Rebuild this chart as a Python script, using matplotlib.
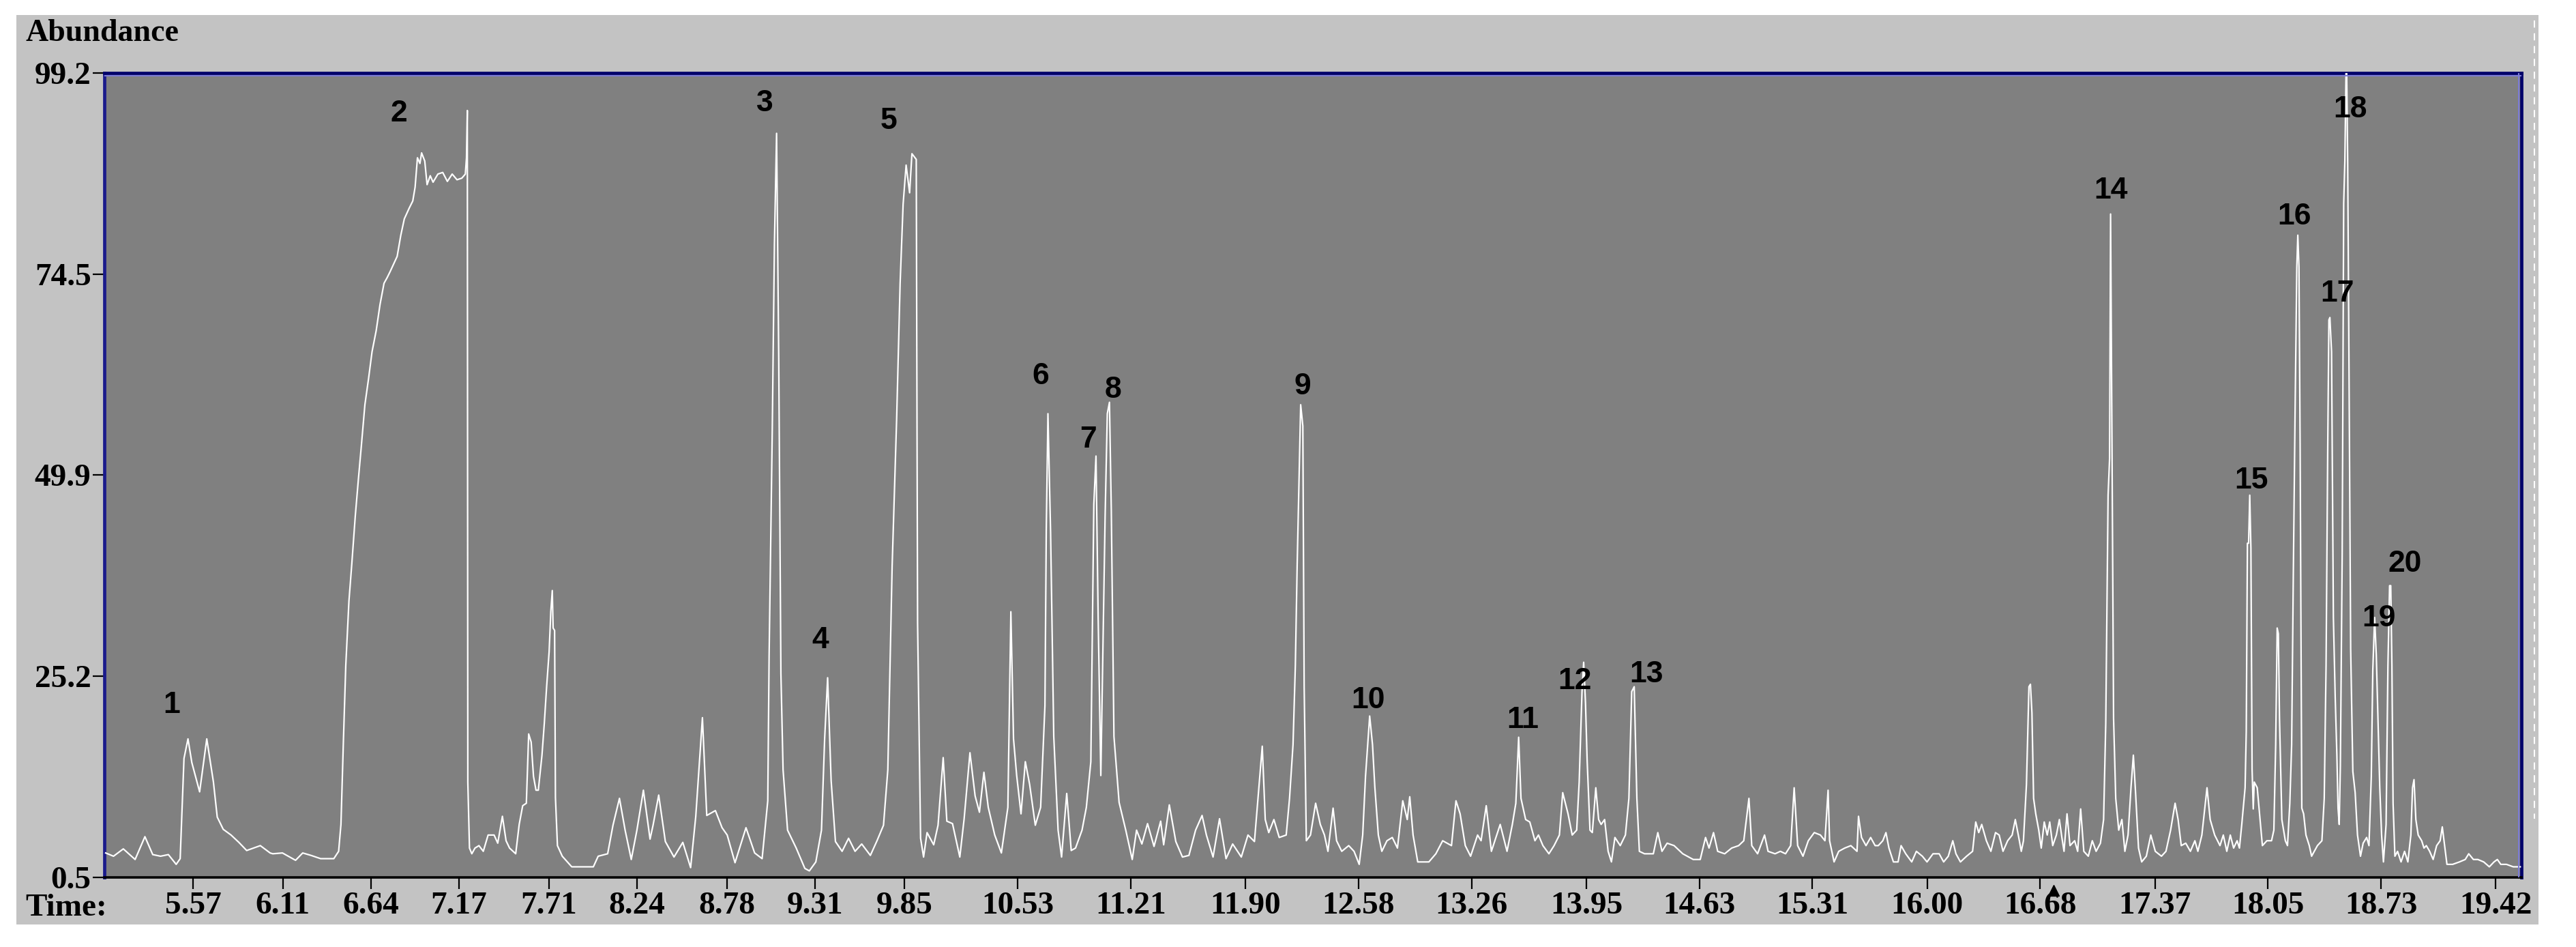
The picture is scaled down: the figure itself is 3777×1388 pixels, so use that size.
import matplotlib
matplotlib.use("Agg")
import matplotlib.pyplot as plt
from matplotlib.lines import Line2D
from matplotlib.patches import Rectangle
import matplotlib.transforms as mtransforms

# ---------------- data ----------------
retention_time = [
    5.045, 5.092, 5.151, 5.222, 5.281, 5.328, 5.375, 5.422, 5.469, 5.493,
    5.516, 5.540, 5.563, 5.610, 5.653, 5.693, 5.716, 5.752, 5.799, 5.846,
    5.893, 5.975, 6.034, 6.050, 6.108, 6.187, 6.230, 6.280, 6.338, 6.417,
    6.446, 6.460, 6.475, 6.489, 6.508, 6.525, 6.546, 6.565, 6.582, 6.604,
    6.626, 6.647, 6.672, 6.695, 6.719, 6.738, 6.755, 6.798, 6.820, 6.841,
    6.870, 6.892, 6.906, 6.920, 6.935, 6.945, 6.964, 6.978, 6.997, 7.014,
    7.043, 7.072, 7.100, 7.129, 7.158, 7.187, 7.208, 7.215, 7.220, 7.223,
    7.233, 7.247, 7.266, 7.290, 7.316, 7.345, 7.381, 7.403, 7.431, 7.453,
    7.474, 7.511, 7.532, 7.553, 7.575, 7.589, 7.604, 7.618, 7.633, 7.647,
    7.669, 7.683, 7.697, 7.712, 7.722, 7.731, 7.736, 7.745, 7.750, 7.762,
    7.791, 7.848, 7.920, 7.978, 8.007, 8.064,
    8.096, 8.135, 8.169, 8.206, 8.240, 8.279, 8.319, 8.337, 8.371, 8.411,
    8.463, 8.516, 8.563, 8.594, 8.634, 8.660, 8.712, 8.752, 8.783, 8.830,
    8.896, 8.948, 8.993, 9.027, 9.035, 9.054, 9.067, 9.080, 9.093, 9.106,
    9.119, 9.146, 9.198, 9.250, 9.277, 9.316, 9.350, 9.369, 9.387, 9.408,
    9.434, 9.474, 9.513, 9.552, 9.592, 9.644, 9.684, 9.723, 9.749, 9.775,
    9.802, 9.823, 9.841, 9.859, 9.880, 9.894, 9.920, 9.928, 9.946, 9.964,
    9.985, 10.025, 10.051, 10.082, 10.104, 10.138, 10.182, 10.208, 10.243, 10.274,
    10.300, 10.327, 10.353, 10.392, 10.432, 10.471, 10.489, 10.505, 10.524, 10.550,
    10.576, 10.602, 10.636, 10.668, 10.694, 10.702, 10.712, 10.728, 10.747, 10.773,
    10.794, 10.825, 10.852, 10.878, 10.917, 10.943, 10.970, 10.988, 11.001, 11.014,
    11.030, 11.056, 11.069, 11.082, 11.093, 11.109, 11.140, 11.180, 11.219, 11.245,
    11.277, 11.311, 11.350, 11.390, 11.408, 11.442, 11.481, 11.521, 11.560, 11.600,
    11.639, 11.665, 11.705, 11.744, 11.783, 11.823, 11.875, 11.915, 11.954, 12.001,
    12.019, 12.040, 12.071, 12.103, 12.145, 12.165, 12.186, 12.200, 12.211, 12.224,
    12.232, 12.245, 12.253, 12.266, 12.291, 12.322, 12.350, 12.375, 12.396, 12.427,
    12.448, 12.479, 12.521, 12.553, 12.584, 12.605, 12.622, 12.647, 12.664, 12.678,
    12.699, 12.720, 12.751, 12.783, 12.814, 12.846, 12.873, 12.888, 12.908, 12.936,
    13.003, 13.045, 13.086, 13.139, 13.166, 13.191, 13.222, 13.254, 13.296, 13.317,
    13.348, 13.379, 13.411, 13.432, 13.452, 13.473, 13.505, 13.526, 13.543, 13.557,
    13.585, 13.610, 13.641, 13.662, 13.689, 13.725, 13.756, 13.788, 13.808, 13.840,
    13.865, 13.892, 13.907, 13.924, 13.934, 13.945, 13.955, 13.972, 13.986, 14.007,
    14.024, 14.039, 14.060, 14.081, 14.101, 14.122, 14.154, 14.185, 14.206, 14.223,
    14.238, 14.254, 14.269, 14.300, 14.353, 14.380, 14.405, 14.436, 14.478, 14.530,
    14.593, 14.635, 14.667, 14.688, 14.715, 14.740, 14.782, 14.824, 14.866, 14.897,
    14.928, 14.945, 14.980, 15.022, 15.043, 15.085, 15.117, 15.148, 15.179, 15.200,
    15.221, 15.253, 15.285, 15.321, 15.358, 15.385, 15.404, 15.413, 15.440, 15.468,
    15.504, 15.541, 15.578, 15.587, 15.605, 15.632, 15.660, 15.687, 15.706, 15.733,
    15.752, 15.770, 15.797, 15.825, 15.843, 15.871, 15.907, 15.935, 15.971, 15.999,
    16.035, 16.072, 16.099, 16.127, 16.154, 16.173, 16.200, 16.237, 16.273, 16.292,
    16.310, 16.328, 16.356, 16.383, 16.411, 16.433, 16.456, 16.484, 16.511, 16.530,
    16.548, 16.566, 16.579, 16.597, 16.612, 16.621, 16.630, 16.640, 16.653, 16.671,
    16.686, 16.704, 16.722, 16.737, 16.755, 16.777, 16.795, 16.810, 16.823, 16.841,
    16.859, 16.887, 16.905, 16.923, 16.942, 16.969, 16.993, 17.016, 17.042, 17.061,
    17.074, 17.088, 17.097, 17.103, 17.112, 17.121, 17.134, 17.152, 17.171, 17.189,
    17.208, 17.226, 17.240, 17.253, 17.271, 17.290, 17.318, 17.345, 17.372, 17.409,
    17.436, 17.464, 17.491, 17.509, 17.528, 17.555, 17.583, 17.610, 17.628, 17.652,
    17.683, 17.702, 17.729, 17.761, 17.781, 17.802, 17.823, 17.843, 17.864, 17.878,
    17.892, 17.912, 17.919, 17.926, 17.933, 17.940, 17.947, 17.954, 17.961, 17.967,
    17.985, 18.002, 18.016, 18.043, 18.071, 18.085, 18.096, 18.105, 18.112, 18.119,
    18.133, 18.154, 18.167, 18.181, 18.192, 18.202, 18.212, 18.223, 18.229, 18.236,
    18.243, 18.253, 18.264, 18.278, 18.298, 18.312, 18.347, 18.374, 18.388, 18.399,
    18.409, 18.416, 18.422, 18.432, 18.443, 18.454, 18.464, 18.471, 18.478, 18.485,
    18.496, 18.505, 18.512, 18.519, 18.523, 18.529, 18.537, 18.547, 18.560, 18.574,
    18.588, 18.606, 18.622, 18.643, 18.657, 18.671, 18.680, 18.691, 18.701, 18.712,
    18.722, 18.733, 18.744, 18.760, 18.771, 18.781, 18.788, 18.795, 18.802, 18.813,
    18.829, 18.850, 18.871, 18.891, 18.909, 18.919, 18.928, 18.939, 18.953, 18.974,
    18.988, 19.002, 19.022, 19.043, 19.064, 19.085, 19.098, 19.112, 19.126, 19.160,
    19.201, 19.236, 19.257, 19.285, 19.312, 19.347, 19.381, 19.409, 19.429, 19.450,
    19.484, 19.525, 19.567,
]

abundance = [
    3.5, 3.1, 4.0, 2.7, 5.5, 3.3, 3.1, 3.3, 2.1, 2.8,
    15.1, 17.5, 14.6, 11.0, 17.5, 12.2, 7.9, 6.4, 5.7, 4.8,
    3.8, 4.4, 3.5, 3.4, 3.5, 2.6, 3.5, 3.2, 2.8, 2.8,
    3.7, 7.0, 17.4, 26.5, 34.4, 38.9, 44.8, 49.4, 53.3, 58.5,
    61.7, 65.0, 67.6, 70.8, 73.4, 74.1, 74.8, 76.7, 79.3, 81.3,
    82.6, 83.5, 85.2, 88.8, 88.1, 89.4, 88.4, 85.5, 86.6, 85.8,
    86.8, 87.0, 85.9, 86.8, 86.1, 86.3, 86.8, 88.8, 94.6, 12.2,
    4.1, 3.4, 4.1, 4.4, 3.7, 5.7, 5.7, 4.7, 8.0, 5.0,
    4.1, 3.4, 7.0, 9.3, 9.6, 18.1, 17.1, 12.9, 11.2, 11.2,
    15.5, 19.4, 23.9, 28.2, 33.1, 35.7, 31.1, 30.8, 10.3, 4.4,
    3.1, 1.8, 1.8, 1.8, 3.1, 3.4,
    6.9, 10.2, 6.3, 2.7, 6.3, 11.2, 5.2, 6.9, 10.6, 4.9,
    3.0, 4.8, 1.7, 8.0, 20.1, 8.1, 8.7, 6.6, 5.7, 2.3,
    6.6, 3.5, 2.8, 9.9, 27.6, 55.3, 78.2, 91.8, 64.1, 25.5,
    13.7, 6.3, 4.1, 1.6, 1.3, 2.4, 6.3, 17.5, 25.0, 12.4,
    4.9, 3.7, 5.3, 3.7, 4.6, 3.2, 5.0, 6.9, 13.7, 38.7,
    56.7, 73.4, 83.1, 87.9, 84.5, 89.3, 88.6, 31.7, 5.3, 3.0,
    6.0, 4.5, 6.9, 15.2, 7.4, 7.1, 3.0, 7.7, 15.8, 10.5,
    8.5, 13.4, 9.1, 5.7, 3.5, 9.1, 33.1, 17.5, 13.0, 8.3,
    14.7, 11.9, 6.9, 9.1, 21.6, 43.2, 57.4, 42.8, 17.8, 6.3,
    3.0, 10.8, 3.8, 4.1, 6.3, 9.1, 14.7, 46.3, 52.2, 32.4,
    13.0, 44.9, 57.4, 58.8, 45.6, 17.8, 9.7, 6.3, 2.7, 6.3,
    4.6, 7.1, 4.3, 7.4, 4.5, 9.4, 4.9, 3.0, 3.2, 6.3,
    8.1, 5.7, 3.0, 7.7, 2.8, 4.6, 3.0, 5.7, 4.9, 16.6,
    7.6, 6.0, 7.6, 5.4, 5.7, 10.2, 16.8, 26.5, 38.9, 51.3,
    58.5, 55.9, 23.9, 5.0, 5.7, 9.6, 7.0, 5.7, 3.7, 9.0,
    5.0, 3.7, 4.4, 3.7, 2.1, 5.7, 12.9, 20.3, 16.8, 11.6,
    5.7, 3.7, 5.0, 5.4, 4.1, 9.9, 7.6, 10.4, 5.7, 2.4,
    2.4, 3.4, 5.0, 4.4, 9.9, 8.3, 4.4, 3.1, 5.7, 5.0,
    9.3, 3.7, 5.7, 7.0, 5.4, 3.7, 7.0, 9.6, 17.7, 10.2,
    7.6, 7.3, 5.0, 5.7, 4.4, 3.4, 4.4, 5.7, 10.9, 8.3,
    5.7, 6.3, 12.2, 23.3, 26.9, 21.9, 14.8, 6.3, 6.0, 11.5,
    7.6, 7.0, 7.6, 3.7, 2.4, 5.4, 4.4, 5.7, 10.2, 23.3,
    23.9, 10.2, 3.7, 3.4, 3.4, 6.0, 3.7, 4.7, 4.4, 3.4,
    2.7, 2.7, 5.4, 4.1, 6.0, 3.7, 3.4, 4.1, 4.4, 5.0,
    10.2, 4.4, 3.4, 5.7, 3.7, 3.4, 3.7, 3.4, 4.4, 11.5,
    4.4, 3.1, 5.0, 6.0, 5.7, 5.0, 11.2, 5.0, 2.4, 3.7,
    4.1, 4.4, 3.7, 8.0, 5.4, 4.4, 5.4, 4.4, 4.4, 5.0,
    6.0, 4.1, 2.4, 2.4, 4.4, 3.4, 2.4, 3.7, 3.1, 2.4,
    3.4, 3.4, 2.4, 3.1, 5.0, 3.4, 2.4, 3.1, 3.7, 7.3,
    6.0, 7.0, 5.0, 3.7, 6.0, 5.7, 3.7, 5.0, 5.7, 7.6,
    5.7, 3.7, 5.0, 11.9, 23.9, 24.2, 20.7, 10.2, 8.3, 6.3,
    4.1, 7.3, 5.7, 7.3, 4.4, 5.7, 7.6, 5.4, 3.7, 8.3,
    4.4, 5.0, 3.7, 8.9, 3.7, 3.1, 5.0, 3.7, 4.7, 7.6,
    19.4, 47.4, 51.9, 81.9, 51.9, 20.0, 10.2, 6.3, 7.6, 3.7,
    5.7, 11.6, 15.5, 11.0, 4.1, 2.4, 3.1, 5.7, 3.7, 3.1,
    3.7, 6.3, 9.6, 7.6, 4.4, 4.7, 3.7, 5.0, 3.7, 5.7,
    11.5, 7.6, 5.7, 4.4, 5.7, 3.7, 5.7, 4.1, 5.0, 4.1,
    7.0, 11.5, 18.4, 41.5, 41.5, 47.4, 40.9, 13.8, 8.9, 12.2,
    11.5, 7.6, 4.4, 5.0, 5.0, 6.3, 16.8, 31.1, 30.4, 20.0,
    7.6, 5.0, 4.4, 9.6, 16.8, 37.6, 56.5, 75.4, 79.3, 75.4,
    53.3, 9.0, 8.3, 5.7, 4.4, 3.1, 4.4, 5.0, 10.2, 26.5,
    53.3, 68.9, 69.2, 65.0, 32.4, 22.6, 15.5, 9.0, 7.0, 14.2,
    40.2, 83.2, 88.4, 99.2, 99.2, 88.4, 63.0, 28.5, 13.5, 10.9,
    5.7, 3.1, 4.7, 5.4, 4.4, 12.9, 25.9, 32.4, 27.8, 19.4,
    11.5, 5.7, 2.4, 7.0, 26.5, 36.3, 36.3, 26.5, 9.6, 3.1,
    3.7, 2.4, 3.7, 2.4, 5.7, 11.5, 12.5, 7.6, 5.7, 5.0,
    4.1, 4.4, 3.7, 2.7, 4.4, 5.0, 6.7, 4.4, 2.1, 2.1,
    2.4, 2.7, 3.4, 2.7, 2.7, 2.4, 1.8, 2.4, 2.7, 2.1,
    2.1, 1.8, 1.8,
]

peak_labels = [str(i) for i in range(1, 21)]
label_time = [5.44, 6.81, 9.01, 9.343, 9.755, 10.667, 10.955, 11.102, 12.244, 12.636,
              13.566, 13.882, 14.31, 17.106, 17.948, 18.207, 18.467, 18.546, 18.715, 18.875]
label_abund = [21.6, 94.2, 95.5, 29.6, 93.3, 62.0, 54.2, 60.3, 60.7, 22.2,
               19.8, 24.6, 25.4, 84.8, 49.2, 81.6, 72.1, 94.7, 32.3, 39.0]

x_tick_labels = ["5.57", "6.11", "6.64", "7.17", "7.71", "8.24", "8.78", "9.31", "9.85",
                 "10.53", "11.21", "11.90", "12.58", "13.26", "13.95", "14.63", "15.31",
                 "16.00", "16.68", "17.37", "18.05", "18.73", "19.42"]
y_tick_labels = ["0.5", "25.2", "49.9", "74.5", "99.2"]

# ---------------- figure ----------------
W, H = 3777, 1388
fig = plt.figure(figsize=(W / 100, H / 100), dpi=100)
fig.patch.set_facecolor("white")

# light gray window panel (behind everything)
fig.patches.append(Rectangle((24 / W, 1 - 1355 / H), (3722 - 24) / W, (1355 - 22) / H,
                             transform=fig.transFigure, facecolor="#c3c3c3",
                             edgecolor="none", zorder=-10))
fig.add_artist(Line2D([3716 / W] * 2, [1 - 30 / H, 1 - 1200 / H], color="white",
                      lw=1.5, ls=(0, (5, 4)), transform=fig.transFigure, zorder=-5))

ax = fig.add_axes([153 / W, 1 - 1286 / H, (3697 - 153) / W, (1286 - 107) / H])
ax.set_zorder(1)
ax.set_facecolor("#808080")
ax.set_xlim(5.037, 19.574)
ax.set_ylim(0.5, 99.2)

ax.plot(retention_time, abundance, color="white", lw=1.6, zorder=3)

serif = ["Liberation Serif", "DejaVu Serif"]
ax.set_xticks([float(v) for v in x_tick_labels])
ax.set_xticklabels(x_tick_labels, fontfamily=serif, fontsize=34, fontweight="bold")
ax.set_yticks([float(v) for v in y_tick_labels])
ax.set_yticklabels(y_tick_labels, fontfamily=serif, fontsize=34, fontweight="bold")
ax.tick_params(axis="x", direction="out", length=12, width=1.6, pad=3, colors="black")
ax.tick_params(axis="y", direction="out", length=12, width=1.6, pad=2, colors="black")

for side in ["top", "right", "left"]:
    ax.spines[side].set_color("#00006a")
    ax.spines[side].set_linewidth(3.4)
ax.spines["left"].set_color("#1a1a8c")
ax.spines["bottom"].set_color("black")
ax.spines["bottom"].set_linewidth(2.6)

# light inner edge of the frame
tr_top = mtransforms.offset_copy(ax.transAxes, fig=fig, x=0, y=-4, units="dots")
ax.add_line(Line2D([0, 1], [1, 1], color="#7c7cd6", lw=1.5, transform=tr_top, zorder=4))
tr_right = mtransforms.offset_copy(ax.transAxes, fig=fig, x=-4, y=0, units="dots")
ax.add_line(Line2D([1, 1], [0, 1], color="#7c7cd6", lw=1.5, transform=tr_right, zorder=4))

# peak numbers
for lab, t, a in zip(peak_labels, label_time, label_abund):
    ax.text(t, a, lab, ha="center", va="center", fontsize=32, fontweight="bold",
            fontfamily=["Liberation Sans", "DejaVu Sans"], color="black", zorder=5)

# small marker under the 16.68 tick
blend = mtransforms.blended_transform_factory(ax.transData, ax.transAxes)
ax.plot([16.76], [-0.016], marker="^", color="black", ms=11, transform=blend,
        clip_on=False, zorder=6)

fig.text(38 / W, 1 - 49 / H, "Abundance", ha="left", va="center", fontsize=33,
         fontweight="bold", fontfamily=serif, color="black")
fig.text(37 / W, 1 - 1331 / H, "Time:", ha="left", va="center", fontsize=34,
         fontweight="bold", fontfamily=serif, color="black")

fig.savefig("out.png", dpi=100, facecolor="white")
